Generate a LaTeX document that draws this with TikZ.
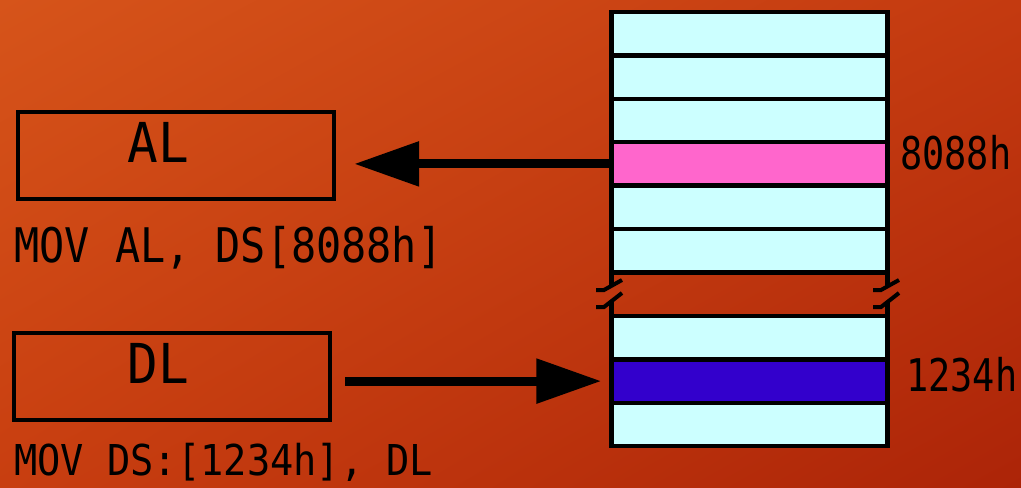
\documentclass[tikz,border=0pt]{standalone}
\usepackage{fontspec}
\newfontfamily\pixfont{DejaVu Sans Mono}
\usetikzlibrary{positioning, arrows.meta, shadings}
\definecolor{bgtl}{RGB}{214,84,26}
\definecolor{bgtr}{RGB}{196,58,16}
\definecolor{bgbl}{RGB}{200,62,16}
\definecolor{bgbr}{RGB}{172,36,8}
\definecolor{cellcyan}{RGB}{204,255,255}
\definecolor{cellpink}{RGB}{255,102,204}
\definecolor{cellblue}{RGB}{51,0,204}

\begin{document}
\begin{tikzpicture}[x=0.02cm, y=-0.02cm,
  reg/.style={draw, line width=0.09cm, minimum width=6.32cm, minimum height=1.74cm, inner sep=0pt},
  cell/.style={draw, line width=0.09cm, minimum width=5.52cm, minimum height=0.868cm, inner sep=0pt},
  txt/.style={inner sep=0pt, anchor=base west, font=\pixfont\fontsize{21}{22}\selectfont},
  arr/.style={line width=0.18cm, -{Triangle[length=1.3cm, width=0.86cm]}}]
  % background
  \shade[upper left=bgtl, upper right=bgtr, lower left=bgbl, lower right=bgbr] (0,0) rectangle (1021,487);
  \useasboundingbox (0,0) rectangle (1021,487);
  % memory cells, upper block
  \foreach \c [count=\i] in {cellcyan,cellcyan,cellcyan,cellpink,cellcyan,cellcyan}
    \node[cell, fill=\c] (m\i) at (749.5, {12+43.4*(\i-0.5)}) {};
  % memory cells, lower block
  \foreach \c [count=\i] in {cellcyan,cellblue,cellcyan}
    \node[cell, fill=\c] (n\i) at (749.5, {316+43.4*(\i-0.5)}) {};
  % break in the column
  \foreach \bx in {611.5,887.5} {
    \draw[line width=0.09cm] (\bx,272) -- (\bx,286);
    \draw[line width=0.09cm] (\bx,301) -- (\bx,316);
  }
  \foreach \bx in {596,873} {
    \draw[line width=0.08cm] (\bx,290) -- ++(8,0) -- ++(18,-10);
    \draw[line width=0.08cm] (\bx,307) -- ++(8,0) -- ++(18,-14);
  }
  % registers
  \node[reg] (al) at (176,155.5) {};
  \node[reg] (dl) at (172,376.5) {};
  \node[txt, font=\pixfont\fontsize{29}{30}\selectfont] (altxt) at (127,162) {\scalebox{1}[1.08]{AL}};
  \node[txt, font=\pixfont\fontsize{29}{30}\selectfont] (dltxt) at (127,383) {\scalebox{1}[1.08]{DL}};
  % transfers
  \draw[arr, shorten >=0.36cm] (m4.west) -- (m4.west -| al.east);
  \draw[arr, shorten <=0.26cm, shorten >=0.16cm] (dl.east |- n2.west) -- (n2.west);
  % addresses and instructions
  \node[txt] (adr1) at (900,169) {\scalebox{1}[1.22]{8088h}};
  \node[txt] (adr2) at (906,391) {\scalebox{1}[1.22]{1234h}};
  \node[txt, font=\pixfont\fontsize{23.8}{25}\selectfont] (op1) at (14,262) {\scalebox{1}[1.14]{MOV AL, DS[8088h]}};
  \node[txt, font=\pixfont\fontsize{22}{23}\selectfont] (op2) at (14,475) {\scalebox{1}[1.1]{MOV DS:[1234h], DL}};
\end{tikzpicture}
\end{document}
